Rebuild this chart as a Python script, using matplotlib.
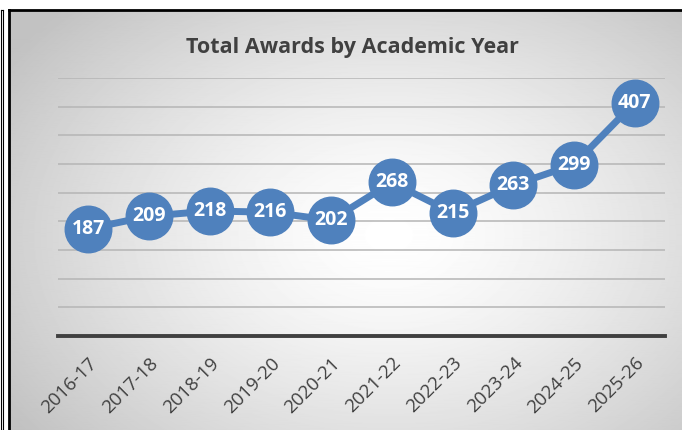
import numpy as np
import matplotlib
matplotlib.use('Agg')
import matplotlib.pyplot as plt

# data
years = ['2016-17', '2017-18', '2018-19', '2019-20', '2020-21',
         '2021-22', '2022-23', '2023-24', '2024-25', '2025-26']
awards = [187, 209, 218, 216, 202, 268, 215, 263, 299, 407]
y_ticks = list(range(0, 451, 50))

W, H = 682, 430
BLUE = '#4F81BD'
DARK = '#404040'
plt.rcParams['font.family'] = ['Open Sans', 'DejaVu Sans']

fig = plt.figure(figsize=(W / 100, H / 100), dpi=100, facecolor='white')

# thin outer line at the far left
edge = fig.add_axes([1 / W, 0, 2 / W, 1 - 10 / H])
edge.set_facecolor('white')
edge.set_xticks([]); edge.set_yticks([])
for s in edge.spines.values():
    s.set_color('black'); s.set_linewidth(0.8)

# chart area with radial gradient
bg = fig.add_axes([9 / W, 0, 1 - 9 / W, 1 - 10 / H])
yy, xx = np.mgrid[0:H, 0:W - 9]
cx, cy = 380, 230
r = np.sqrt(((xx - cx) / 430) ** 2 + ((yy - cy) / 310) ** 2)
shade = np.clip(1.0 - 0.22 * r ** 1.4, 0.76, 1.0)
bg.imshow(shade, cmap='gray', vmin=0, vmax=1, aspect='auto',
          interpolation='bilinear')
bg.set_xticks([]); bg.set_yticks([])
for side in ['right', 'bottom']:
    bg.spines[side].set_visible(False)
for side in ['left', 'top']:
    bg.spines[side].set_color('black'); bg.spines[side].set_linewidth(2)

# plot area
ax = fig.add_axes([58 / W, (H - 336) / H, (665 - 58) / W, (336 - 78) / H])
ax.patch.set_alpha(0)
x = np.arange(len(years))
ax.set_xlim(-0.5, len(years) - 0.5)
ax.set_ylim(0, 450)
for v in y_ticks[1:]:
    ax.axhline(v, color='#b5b5b5', lw=1.1, zorder=1)
ax.axhline(0, color=DARK, lw=2.8, zorder=2, clip_on=False)

ax.plot(x, awards, color=BLUE, lw=5, marker='o', ms=33.5,
        markerfacecolor=BLUE, markeredgecolor=BLUE, zorder=3,
        solid_capstyle='round')
for xi, v in zip(x, awards):
    ax.text(xi, v, str(v), ha='center', va='center', color='white',
            fontsize=14, fontweight='bold', zorder=4)

ax.set_xticks(x)
ax.set_xticklabels(years, rotation=45, ha='right', rotation_mode='anchor',
                   fontsize=13.5, color=DARK)
ax.tick_params(axis='x', length=0, pad=13)
ax.set_yticks([])
for s in ax.spines.values():
    s.set_visible(False)

fig.text(352 / W, 1 - 47 / H, 'Total Awards by Academic Year', ha='center',
         va='center', fontsize=15.5, fontweight='bold', color=DARK)

fig.savefig('out.png', dpi=100)
